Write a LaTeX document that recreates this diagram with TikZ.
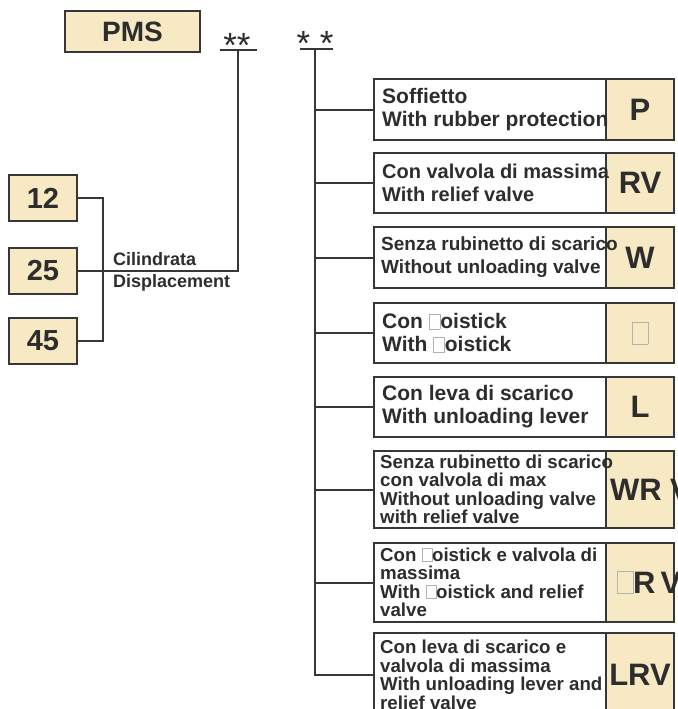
\documentclass[tikz,border=0pt]{standalone}
\usepackage{fontspec}
\setmainfont{Liberation Sans}
\usepackage{tikz}
\usetikzlibrary{positioning}
\definecolor{beige}{RGB}{247,233,196}
\definecolor{ink}{RGB}{45,45,45}
\definecolor{wire}{RGB}{55,55,55}
\newcommand{\tofu}{{\setlength{\fboxsep}{0pt}\setlength{\fboxrule}{0.5pt}\color{black!30}\fbox{\rule{0pt}{0.7em}\hspace{0.5em}}}}

\begin{document}
\begin{tikzpicture}
      [x=1pt,y=-1pt,
       wire/.style={draw=wire,line width=2pt},
       codebox/.style={rectangle,draw=wire,fill=beige,line width=2pt,inner sep=0pt,text=ink},
       codetag/.style={codebox,minimum width=68pt,font=\fontsize{31}{31}\selectfont\bfseries},
       optbox/.style={rectangle,draw=wire,fill=white,line width=2pt,minimum width=300pt,inner sep=0pt,anchor=west},
       desc/.style={align=left,inner sep=0pt,text=ink,anchor=west},
       stars/.style={inner sep=0pt,text=ink,anchor=base,font=\fontsize{35}{35}\selectfont}]
        \useasboundingbox[fill=white] (0,0) rectangle (677,709);

        \node[codebox,minimum width=135pt,minimum height=41pt,font=\fontsize{28}{28}\selectfont\bfseries] (pms) at (132.5,31.5) {PMS};

        \node[codebox,minimum width=68pt,minimum height=46pt,font=\fontsize{29}{29}\selectfont\bfseries] (d12) at (43,198) {12};
        \node[codebox,minimum width=68pt,minimum height=46pt,font=\fontsize{29}{29}\selectfont\bfseries] (d25) at (43,271) {25};
        \node[codebox,minimum width=68pt,minimum height=46pt,font=\fontsize{29}{29}\selectfont\bfseries] (d45) at (43,340.5) {45};
        \node[desc,font=\fontsize{18}{22}\selectfont\bfseries] (disp) at (113,272) {Cilindrata\\Displacement};

        \coordinate (j1) at (238,50);
        \coordinate (j2) at (315,49);
        \node[stars] (s1) at (237,57) {**};
        \node[stars] (s2) at (315,56) {* *};
        \draw[wire] (j1) ++(-18,0) -- ++(37,0);
        \draw[wire] (j2) ++(-15,0) -- ++(33,0);

        \draw[wire] (d12.east) -- ++(25,0) |- (d45.east);
        \draw[wire] (d25.east) -| (j1);

        \node[optbox,minimum height=61pt] (o1) at (373,109.5) {};
        \node[optbox,minimum height=60pt] (o2) at (373,183) {};
        \node[optbox,minimum height=61pt] (o3) at (373,257.5) {};
        \node[optbox,minimum height=60pt] (o4) at (373,333) {};
        \node[optbox,minimum height=60pt] (o5) at (373,407) {};
        \node[optbox,minimum height=77pt] (o6) at (373,489.5) {};
        \node[optbox,minimum height=79pt] (o7) at (373,582.5) {};
        \node[optbox,minimum height=84pt] (o8) at (373,675) {};

        \node[codetag,anchor=east,minimum height=61pt] (c1) at (o1.east) {P};
        \node[codetag,anchor=east,minimum height=60pt] (c2) at (o2.east) {RV};
        \node[codetag,anchor=east,minimum height=61pt] (c3) at (o3.east) {W};
        \node[codetag,anchor=east,minimum height=60pt] (c4) at (o4.east) {\tofu};
        \node[codetag,anchor=east,minimum height=60pt] (c5) at (o5.east) {L};
        \node[codetag,anchor=east,minimum height=77pt] (c6) at (o6.east) {};
        \node[codetag,anchor=east,minimum height=79pt] (c7) at (o7.east) {};
        \node[codetag,anchor=east,minimum height=84pt] (c8) at (o8.east) {LRV};
        \node[codetag,draw=none,fill=none,anchor=west] (l6) at ([xshift=4pt]c6.west) {WR V};
        \node[codetag,draw=none,fill=none,anchor=west] (l7) at ([xshift=9pt]c7.west) {\tofu R\,V};

        \node[desc,font=\fontsize{21}{23}\selectfont\bfseries] (t1) at ([xshift=9pt]o1.west) {Soffietto\\With rubber protection};
        \node[desc,font=\fontsize{20}{23}\selectfont\bfseries] (t2) at ([xshift=9pt]o2.west) {Con valvola di massima\\With relief valve};
        \node[desc,font=\fontsize{19}{23}\selectfont\bfseries] (t3) at ([xshift=8pt]o3.west) {Senza rubinetto di scarico\\Without unloading valve};
        \node[desc,font=\fontsize{21}{23}\selectfont\bfseries] (t4) at ([xshift=9pt]o4.west) {Con \tofu oistick\\With \tofu oistick};
        \node[desc,font=\fontsize{21}{23}\selectfont\bfseries] (t5) at ([xshift=9pt]o5.west) {Con leva di scarico\\With unloading lever};
        \node[desc,font=\fontsize{18.7}{18.5}\selectfont\bfseries] (t6) at ([xshift=7pt]o6.west) {Senza rubinetto di scarico\\con valvola di max\\Without unloading valve\\with relief valve};
        \node[desc,font=\fontsize{18.7}{18.5}\selectfont\bfseries] (t7) at ([xshift=7pt]o7.west) {Con \tofu oistick e valvola di\\massima\\With \tofu oistick and relief\\valve};
        \node[desc,font=\fontsize{18.7}{18.5}\selectfont\bfseries] (t8) at ([xshift=7pt]o8.west) {Con leva di scarico e\\valvola di massima\\With unloading lever and\\relief valve};

        \draw[wire] (j2) |- (o8.west);
        \draw[wire] (j2) |- (o1.west);
        \draw[wire] (j2) |- (o2.west);
        \draw[wire] (j2) |- (o3.west);
        \draw[wire] (j2) |- (o4.west);
        \draw[wire] (j2) |- (o5.west);
        \draw[wire] (j2) |- (o6.west);
        \draw[wire] (j2) |- (o7.west);

      \end{tikzpicture}
\end{document}
